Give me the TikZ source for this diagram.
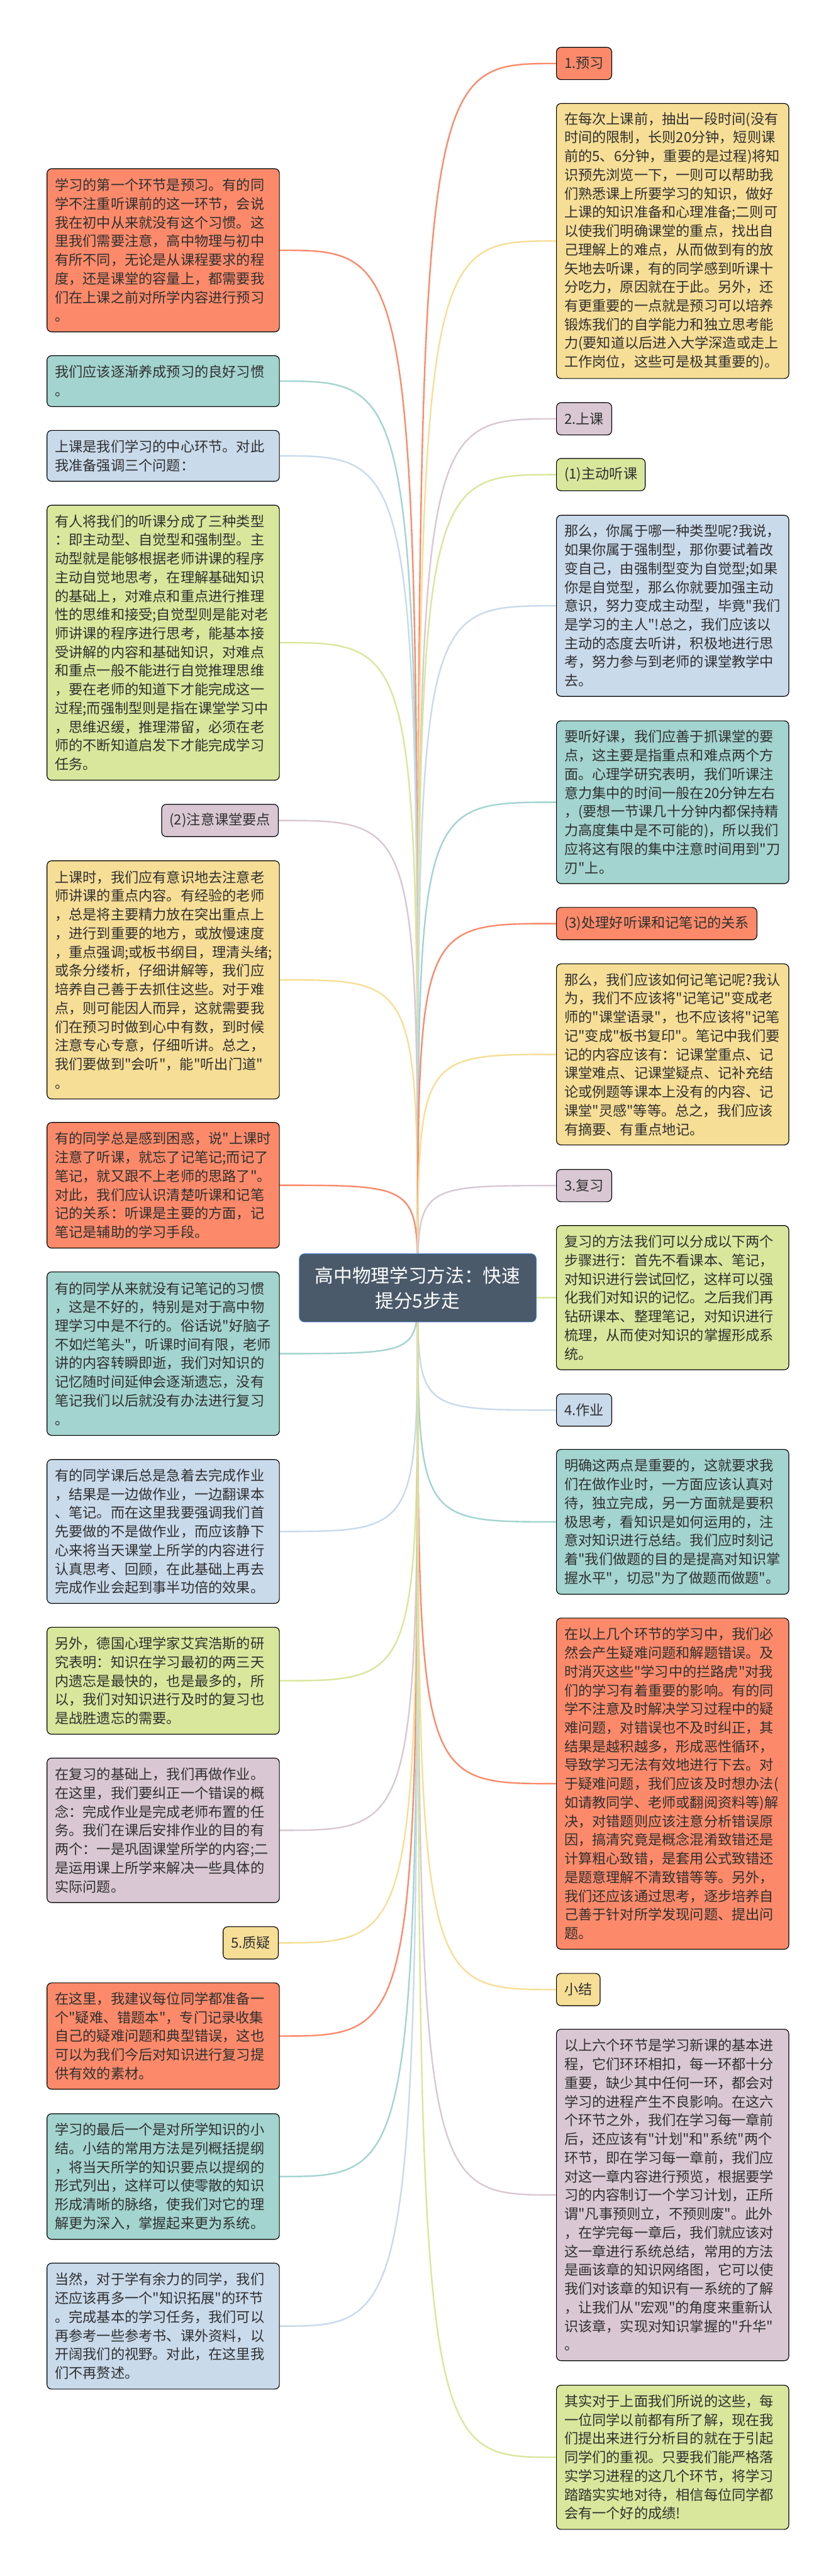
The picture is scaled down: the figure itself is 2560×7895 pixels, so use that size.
\documentclass[tikz,border=0pt]{standalone}
\usepackage{fontspec}
\setmainfont{Noto Sans CJK SC}[Ligatures=TeXOff]
\usetikzlibrary{backgrounds}
\definecolor{cSal}{HTML}{FC8A6A}
\definecolor{cTeal}{HTML}{A3D4CF}
\definecolor{cBlue}{HTML}{C9DAEB}
\definecolor{cGreen}{HTML}{D8E79B}
\definecolor{cLav}{HTML}{D9C8D3}
\definecolor{cYel}{HTML}{F7DE96}
\definecolor{cCenter}{HTML}{4A5A6A}
\definecolor{cCenterB}{HTML}{3A78D0}
\definecolor{cText}{HTML}{303030}
\tikzset{
  tb/.style={draw=black, line width=0.55pt, rounded corners=3.5pt, text width=166pt,
    inner xsep=6pt, inner ysep=4pt, align=left, text=cText,
    font=\fontsize{10.7}{14.33}\selectfont},
  sb/.style={draw=black, line width=0.55pt, rounded corners=3.5pt, inner xsep=6pt,
    inner ysep=4pt, minimum height=24.75pt, text=cText,
    font=\fontsize{10.7}{14.33}\selectfont},
  conn/.style={line width=1.15pt},
}
\begin{document}
\begin{tikzpicture}[x=0.25pt,y=-0.25pt]
\useasboundingbox (0,0) rectangle (2560,7895);

% central node
\node[fill=cCenter, draw=cCenterB, line width=0.45pt, rounded corners=4pt,
  minimum width=181.5pt, minimum height=52.25pt, align=center, text=white,
  font=\fontsize{14.3}{19.4}\selectfont] (C) at (1280,3947) {高中物理学习方法：快速\\提分5步走};

% ---------- left side ----------
\node[tb, fill=cSal, anchor=north west, minimum height=125pt] (L1) at (143,516) {学习的第一个环节是预习。有的同\\学不注重听课前的这一环节，会说\\我在初中从来就没有这个习惯。这\\里我们需要注意，高中物理与初中\\有所不同，无论是从课程要求的程\\度，还是课堂的容量上，都需要我\\们在上课之前对所学内容进行预习\\。};
\node[tb, fill=cTeal, anchor=north west, minimum height=39pt] (L2) at (143,1089) {我们应该逐渐养成预习的良好习惯\\。};
\node[tb, fill=cBlue, anchor=north west, minimum height=39pt] (L3) at (143,1318) {上课是我们学习的中心环节。对此\\我准备强调三个问题：};
\node[tb, fill=cGreen, anchor=north west, minimum height=210.75pt] (L4) at (143,1547) {有人将我们的听课分成了三种类型\\：即主动型、自觉型和强制型。主\\动型就是能够根据老师讲课的程序\\主动自觉地思考，在理解基础知识\\的基础上，对难点和重点进行推理\\性的思维和接受;自觉型则是能对老\\师讲课的程序进行思考，能基本接\\受讲解的内容和基础知识，对难点\\和重点一般不能进行自觉推理思维\\，要在老师的知道下才能完成这一\\过程;而强制型则是指在课堂学习中\\，思维迟缓，推理滞留，必须在老\\师的不断知道启发下才能完成学习\\任务。};
\node[sb, fill=cLav, anchor=north east] (L5) at (854,2464) {(2)注意课堂要点};
\node[tb, fill=cYel, anchor=north west, minimum height=182.5pt] (L6) at (143,2637) {上课时，我们应有意识地去注意老\\师讲课的重点内容。有经验的老师\\，总是将主要精力放在突出重点上\\，进行到重要的地方，或放慢速度\\，重点强调;或板书纲目，理清头绪;\\或条分缕析，仔细讲解等，我们应\\培养自己善于去抓住这些。对于难\\点，则可能因人而异，这就需要我\\们在预习时做到心中有数，到时候\\注意专心专意，仔细听讲。总之，\\我们要做到"会听"，能"听出门道"\\。};
\node[tb, fill=cSal, anchor=north west, minimum height=96.25pt] (L7) at (143,3439) {有的同学总是感到困惑，说"上课时\\注意了听课，就忘了记笔记;而记了\\笔记，就又跟不上老师的思路了"。\\对此，我们应认识清楚听课和记笔\\记的关系：听课是主要的方面，记\\笔记是辅助的学习手段。};
\node[tb, fill=cTeal, anchor=north west, minimum height=125.25pt] (L8) at (143,3897) {有的同学从来就没有记笔记的习惯\\，这是不好的，特别是对于高中物\\理学习中是不行的。俗话说"好脑子\\不如烂笔头"，听课时间有限，老师\\讲的内容转瞬即逝，我们对知识的\\记忆随时间延伸会逐渐遗忘，没有\\笔记我们以后就没有办法进行复习\\。};
\node[tb, fill=cBlue, anchor=north west, minimum height=110.25pt] (L9) at (143,4472) {有的同学课后总是急着去完成作业\\，结果是一边做作业，一边翻课本\\、笔记。而在这里我要强调我们首\\先要做的不是做作业，而应该静下\\心来将当天课堂上所学的内容进行\\认真思考、回顾，在此基础上再去\\完成作业会起到事半功倍的效果。};
\node[tb, fill=cGreen, anchor=north west, minimum height=82pt] (L10) at (143,4986) {另外，德国心理学家艾宾浩斯的研\\究表明：知识在学习最初的两三天\\内遗忘是最快的，也是最多的，所\\以，我们对知识进行及时的复习也\\是战胜遗忘的需要。};
\node[tb, fill=cLav, anchor=north west, minimum height=110.75pt] (L11) at (143,5387) {在复习的基础上，我们再做作业。\\在这里，我们要纠正一个错误的概\\念：完成作业是完成老师布置的任\\务。我们在课后安排作业的目的有\\两个：一是巩固课堂所学的内容;二\\是运用课上所学来解决一些具体的\\实际问题。};
\node[sb, fill=cYel, anchor=north east] (L12) at (854,5904) {5.质疑};
\node[tb, fill=cSal, anchor=north west, minimum height=81.5pt] (L13) at (143,6076) {在这里，我建议每位同学都准备一\\个"疑难、错题本"，专门记录收集\\自己的疑难问题和典型错误，这也\\可以为我们今后对知识进行复习提\\供有效的素材。};
\node[tb, fill=cTeal, anchor=north west, minimum height=96.25pt] (L14) at (143,6477) {学习的最后一个是对所学知识的小\\结。小结的常用方法是列概括提纲\\，将当天所学的知识要点以提纲的\\形式列出，这样可以使零散的知识\\形成清晰的脉络，使我们对它的理\\解更为深入，掌握起来更为系统。};
\node[tb, fill=cBlue, anchor=north west, minimum height=96.5pt] (L15) at (143,6935) {当然，对于学有余力的同学，我们\\还应该再多一个"知识拓展"的环节\\。完成基本的学习任务，我们可以\\再参考一些参考书、课外资料，以\\开阔我们的视野。对此，在这里我\\们不再赘述。};

% ---------- right side ----------
\node[sb, fill=cSal, anchor=north west] (R1) at (1704,144) {1.预习};
\node[tb, fill=cYel, anchor=north west, minimum height=210.75pt] (R2) at (1704,316) {在每次上课前，抽出一段时间(没有\\时间的限制，长则20分钟，短则课\\前的5、6分钟，重要的是过程)将知\\识预先浏览一下，一则可以帮助我\\们熟悉课上所要学习的知识，做好\\上课的知识准备和心理准备;二则可\\以使我们明确课堂的重点，找出自\\己理解上的难点，从而做到有的放\\矢地去听课，有的同学感到听课十\\分吃力，原因就在于此。另外，还\\有更重要的一点就是预习可以培养\\锻炼我们的自学能力和独立思考能\\力(要知道以后进入大学深造或走上\\工作岗位，这些可是极其重要的)。};
\node[sb, fill=cLav, anchor=north west] (R3) at (1704,1233) {2.上课};
\node[sb, fill=cGreen, anchor=north west] (R4) at (1704,1404) {(1)主动听课};
\node[tb, fill=cBlue, anchor=north west, minimum height=138.75pt] (R5) at (1704,1578) {那么，你属于哪一种类型呢?我说，\\如果你属于强制型，那你要试着改\\变自己，由强制型变为自觉型;如果\\你是自觉型，那么你就要加强主动\\意识，努力变成主动型，毕竟"我们\\是学习的主人"!总之，我们应该以\\主动的态度去听讲，积极地进行思\\考，努力参与到老师的课堂教学中\\去。};
\node[tb, fill=cTeal, anchor=north west, minimum height=124.75pt] (R6) at (1704,2208) {要听好课，我们应善于抓课堂的要\\点，这主要是指重点和难点两个方\\面。心理学研究表明，我们听课注\\意力集中的时间一般在20分钟左右\\，(要想一节课几十分钟内都保持精\\力高度集中是不可能的)，所以我们\\应将这有限的集中注意时间用到"刀\\刃"上。};
\node[sb, fill=cSal, anchor=north west] (R7) at (1704,2780) {(3)处理好听课和记笔记的关系};
\node[tb, fill=cYel, anchor=north west, minimum height=138.75pt] (R8) at (1704,2953) {那么，我们应该如何记笔记呢?我认\\为，我们不应该将"记笔记"变成老\\师的"课堂语录"，也不应该将"记笔\\记"变成"板书复印"。笔记中我们要\\记的内容应该有：记课堂重点、记\\课堂难点、记课堂疑点、记补充结\\论或例题等课本上没有的内容、记\\课堂"灵感"等等。总之，我们应该\\有摘要、有重点地记。};
\node[sb, fill=cLav, anchor=north west] (R9) at (1704,3583) {3.复习};
\node[tb, fill=cGreen, anchor=north west, minimum height=110.5pt] (R10) at (1704,3755) {复习的方法我们可以分成以下两个\\步骤进行：首先不看课本、笔记，\\对知识进行尝试回忆，这样可以强\\化我们对知识的记忆。之后我们再\\钻研课本、整理笔记，对知识进行\\梳理，从而使对知识的掌握形成系\\统。};
\node[sb, fill=cBlue, anchor=north west] (R11) at (1704,4271) {4.作业};
\node[tb, fill=cTeal, anchor=north west, minimum height=111pt] (R12) at (1704,4441) {明确这两点是重要的，这就要求我\\们在做作业时，一方面应该认真对\\待，独立完成，另一方面就是要积\\极思考，看知识是如何运用的，注\\意对知识进行总结。我们应时刻记\\着"我们做题的目的是提高对知识掌\\握水平"，切忌"为了做题而做题"。};
\node[tb, fill=cSal, anchor=north west, minimum height=253.75pt] (R13) at (1704,4958) {在以上几个环节的学习中，我们必\\然会产生疑难问题和解题错误。及\\时消灭这些"学习中的拦路虎"对我\\们的学习有着重要的影响。有的同\\学不注意及时解决学习过程中的疑\\难问题，对错误也不及时纠正，其\\结果是越积越多，形成恶性循环，\\导致学习无法有效地进行下去。对\\于疑难问题，我们应该及时想办法(\\如请教同学、老师或翻阅资料等)解\\决，对错题则应该注意分析错误原\\因，搞清究竟是概念混淆致错还是\\计算粗心致错，是套用公式致错还\\是题意理解不清致错等等。另外，\\我们还应该通过思考，逐步培养自\\己善于针对所学发现问题、提出问\\题。};
\node[sb, fill=cYel, anchor=north west] (R14) at (1704,6047) {小结};
\node[tb, fill=cLav, anchor=north west, minimum height=254pt] (R15) at (1704,6218) {以上六个环节是学习新课的基本进\\程，它们环环相扣，每一环都十分\\重要，缺少其中任何一环，都会对\\学习的进程产生不良影响。在这六\\个环节之外，我们在学习每一章前\\后，还应该有"计划"和"系统"两个\\环节，即在学习每一章前，我们应\\对这一章内容进行预览，根据要学\\习的内容制订一个学习计划，正所\\谓"凡事预则立，不预则废"。此外\\，在学完每一章后，我们就应该对\\这一章进行系统总结，常用的方法\\是画该章的知识网络图，它可以使\\我们对该章的知识有一系统的了解\\，让我们从"宏观"的角度来重新认\\识该章，实现对知识掌握的"升华"\\。};
\node[tb, fill=cGreen, anchor=north west, minimum height=110.5pt] (R16) at (1704,7309) {其实对于上面我们所说的这些，每\\一位同学以前都有所了解，现在我\\们提出来进行分析目的就在于引起\\同学们的重视。只要我们能严格落\\实学习进程的这几个环节，将学习\\踏踏实实地对待，相信每位同学都\\会有一个好的成绩!};

\begin{pgfonlayer}{background}
\fill[white] (0,0) rectangle (2560,7895);
\foreach \n/\c in {L1/cSal,L2/cTeal,L3/cBlue,L4/cGreen,L5/cLav,L6/cYel,L7/cSal,L8/cTeal,L9/cBlue,L10/cGreen,L11/cLav,L12/cYel,L13/cSal,L14/cTeal,L15/cBlue}
  \draw[conn, draw=\c] (C.center) .. controls (C.center |- \n.east) .. (\n.east);
\foreach \n/\c in {R1/cSal,R2/cYel,R3/cLav,R4/cGreen,R5/cBlue,R6/cTeal,R7/cSal,R8/cYel,R9/cLav,R10/cGreen,R11/cBlue,R12/cTeal,R13/cSal,R14/cYel,R15/cLav,R16/cGreen}
  \draw[conn, draw=\c] (C.center) .. controls (C.center |- \n.west) .. (\n.west);
\end{pgfonlayer}
\end{tikzpicture}
\end{document}
